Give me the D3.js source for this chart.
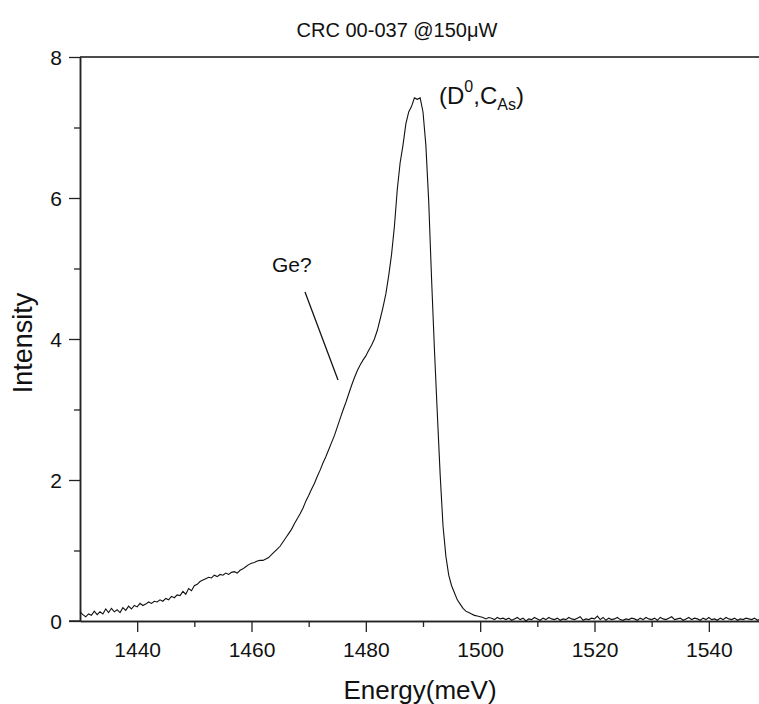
<!DOCTYPE html>
<html>
<head>
<meta charset="utf-8">
<script src="https://cdn.jsdelivr.net/npm/d3@7/dist/d3.min.js"></script>
<style>
  body { margin: 0; background: #fff; }
  text { font-family: "Liberation Sans", Arial, sans-serif; fill: #111; }
</style>
</head>
<body>
<svg id="chart" width="759" height="704"></svg>
<script>
// spectrum sampled every 0.5 meV starting at 1430 meV
const energyStart = 1430;
const energyStep = 0.5;
const intensity = [
  0.13, 0.09, 0.06, 0.10, 0.08, 0.14, 0.09, 0.13, 0.10, 0.17, // 1430
  0.12, 0.18, 0.13, 0.16, 0.12, 0.19, 0.15, 0.21, 0.17, 0.22, // 1435
  0.20, 0.25, 0.22, 0.24, 0.27, 0.25, 0.28, 0.27, 0.30, 0.28, // 1440
  0.32, 0.30, 0.35, 0.33, 0.37, 0.36, 0.42, 0.38, 0.46, 0.43, // 1445
  0.50, 0.52, 0.56, 0.58, 0.60, 0.62, 0.61, 0.65, 0.63, 0.66, // 1450
  0.65, 0.68, 0.66, 0.69, 0.70, 0.68, 0.72, 0.74, 0.77, 0.80, // 1455
  0.82, 0.83, 0.85, 0.86, 0.86, 0.88, 0.90, 0.94, 0.98, 1.02, // 1460
  1.06, 1.12, 1.18, 1.24, 1.30, 1.38, 1.45, 1.52, 1.60, 1.70, // 1465
  1.78, 1.87, 1.95, 2.05, 2.14, 2.24, 2.33, 2.43, 2.53, 2.63, // 1470
  2.75, 2.87, 2.99, 3.10, 3.22, 3.34, 3.45, 3.55, 3.63, 3.70, // 1475
  3.76, 3.84, 3.91, 4.00, 4.12, 4.28, 4.45, 4.64, 4.90, 5.20, // 1480
  5.60, 6.12, 6.50, 6.75, 7.05, 7.22, 7.30, 7.42, 7.40, 7.42, // 1485
  7.22, 6.75, 5.95, 4.85, 3.85, 2.95, 2.08, 1.35, 0.92, 0.65, // 1490
  0.50, 0.40, 0.30, 0.24, 0.18, 0.14, 0.12, 0.10, 0.08, 0.07, // 1495
  0.06, 0.05, 0.03, 0.05, 0.04, 0.02, 0.05, 0.03, 0.04, 0.02, // 1500
  0.04, 0.01, 0.03, 0.05, 0.02, 0.04, 0.00, 0.03, 0.02, 0.05, // 1505
  0.03, 0.01, 0.04, 0.02, 0.05, 0.03, 0.02, 0.04, 0.01, 0.03, // 1510
  0.02, 0.05, 0.03, 0.02, 0.04, 0.06, 0.01, 0.03, 0.02, 0.04, // 1515
  0.03, 0.07, 0.02, 0.05, 0.01, 0.04, 0.02, 0.03, 0.05, 0.02, // 1520
  0.01, 0.03, 0.02, 0.04, 0.03, 0.01, 0.04, 0.02, 0.05, 0.03, // 1525
  0.02, 0.04, 0.01, 0.05, 0.03, 0.02, 0.04, 0.06, 0.02, 0.03, // 1530
  0.04, 0.01, 0.03, 0.05, 0.02, 0.04, 0.03, 0.01, 0.04, 0.02, // 1535
  0.05, 0.02, 0.03, 0.01, 0.04, 0.02, 0.05, 0.03, 0.02, 0.04, // 1540
  0.01, 0.03, 0.02, 0.04, 0.03, 0.02, 0.04, 0.01, 0.03, 0.02  // 1545
];
const xMajorTicks = [1440, 1460, 1480, 1500, 1520, 1540];
const xMinorTicks = [1450, 1470, 1490, 1510, 1530];
const yMajorTicks = [0, 2, 4, 6, 8];
const yMinorTicks = [1, 3, 5, 7];

let svg = d3.select("#chart");
let plotLeft = 80, plotTop = 57, plotBottom = 621;

let xScale = d3.scaleLinear()
    .domain([1430, 1550])
    .range([plotLeft, 766]);
let yScale = d3.scaleLinear()
    .domain([0, 8])
    .range([plotBottom, plotTop]);

// title
svg.append("text")
    .attr("x", 397).attr("y", 37)
    .attr("text-anchor", "middle")
    .style("font-size", "20px")
    .text("CRC 00-037 @150\u03bcW");

// frame line on top
svg.append("line")
    .attr("x1", plotLeft).attr("x2", 759)
    .attr("y1", plotTop).attr("y2", plotTop)
    .attr("stroke", "#111").attr("stroke-width", 1.5);

// axes
let xAxis = d3.axisBottom(xScale).tickValues(xMajorTicks).tickFormat(d3.format("d"))
    .tickSize(11).tickPadding(10).tickSizeOuter(0);
let xMinor = d3.axisBottom(xScale).tickValues(xMinorTicks).tickSize(6).tickFormat("").tickSizeOuter(0);
let yAxis = d3.axisLeft(yScale).tickValues(yMajorTicks).tickSize(11).tickPadding(7).tickSizeOuter(0);
let yMinor = d3.axisLeft(yScale).tickValues(yMinorTicks).tickSize(6).tickFormat("").tickSizeOuter(0);

let gx = svg.append("g").attr("transform", "translate(0," + plotBottom + ")").call(xAxis);
svg.append("g").attr("transform", "translate(0," + plotBottom + ")").call(xMinor);
let gy = svg.append("g").attr("transform", "translate(" + plotLeft + ",0)").call(yAxis);
svg.append("g").attr("transform", "translate(" + plotLeft + ",0)").call(yMinor);

svg.selectAll(".domain").attr("stroke", "#222").attr("stroke-width", 1.5);
svg.selectAll(".tick line").attr("stroke", "#222").attr("stroke-width", 1.3);
gx.selectAll(".tick text").style("font-size", "21px").attr("fill", "#111");
gy.selectAll(".tick text").style("font-size", "21px").attr("fill", "#111").attr("dy", "0.36em");

// extend x axis line to the left past the y axis
svg.append("line")
    .attr("x1", 69).attr("x2", plotLeft)
    .attr("y1", plotBottom).attr("y2", plotBottom)
    .attr("stroke", "#222").attr("stroke-width", 1.5);

// axis titles
svg.append("text")
    .attr("x", 420).attr("y", 699)
    .attr("text-anchor", "middle")
    .style("font-size", "26px")
    .text("Energy(meV)");

svg.append("text")
    .attr("transform", "translate(32,343) rotate(-90)")
    .attr("text-anchor", "middle")
    .style("font-size", "27px")
    .text("Intensity");

// spectrum
let line = d3.line()
    .x((d, i) => xScale(energyStart + i * energyStep))
    .y(d => yScale(d));

svg.append("path")
    .datum(intensity)
    .attr("d", line)
    .attr("fill", "none")
    .attr("stroke", "#111")
    .attr("stroke-width", 1.1);

// annotations
svg.append("text")
    .attr("x", 272).attr("y", 272)
    .style("font-size", "21px")
    .text("Ge?");

svg.append("line")
    .attr("x1", 305).attr("y1", 292)
    .attr("x2", 338).attr("y2", 380)
    .attr("stroke", "#111").attr("stroke-width", 1.3);

let peak = svg.append("text")
    .attr("x", 439).attr("y", 104)
    .style("font-size", "24px");
peak.append("tspan").text("(D");
peak.append("tspan").attr("dy", -12).style("font-size", "16px").text("0");
peak.append("tspan").attr("dy", 12).text(",C");
peak.append("tspan").attr("dy", 6).style("font-size", "16px").text("As");
peak.append("tspan").attr("dy", -6).text(")");
</script>
</body>
</html>
